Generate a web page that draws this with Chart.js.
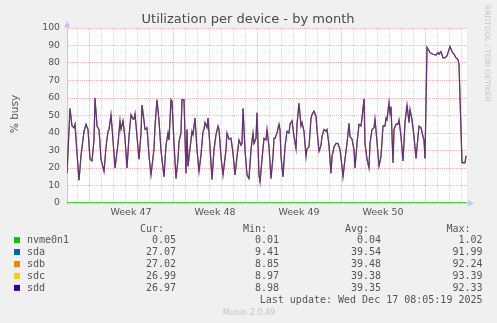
<!DOCTYPE html>
<html><head><meta charset="utf-8">
<script src="https://cdn.jsdelivr.net/npm/chart.js@4"></script>
<style>html,body{margin:0;padding:0;background:#f0f0f0;overflow:hidden}canvas{display:block}</style>
</head><body>
<canvas id="c" width="497" height="323"></canvas>
<script>
// time axis: hours since start of the month window (2-hour samples)
const hours = [0,6,10,14,16,20,24,28,34,38,42,46,50,54,56,60,64,68,74,78,82,84,88,92,96,102,106,108,112,116,120,124,128,132,134,136,140,144,148,150,154,156,160,164,168,174,176,180,184,188,194,198,202,204,208,210,
214,218,222,224,228,230,234,236,238,240,242,246,250,252,256,260,264,268,272,274,276,280,282,286,290,294,298,302,304,308,312,318,320,324,328,332,336,340,344,348,350,352,356,360,364,368,372,374,378,380,384,386,390,394,398,400,404,408,412,414,
416,420,424,426,428,432,436,440,444,446,450,454,458,460,464,468,470,474,478,480,484,488,490,494,498,500,504,508,510,514,518,520,524,528,530,534,538,542,546,550,552,556,560,564,566,570,574,576,580,584,588,590,594,596,600,604,606,610,614,616,620,
624,628,632,636,638,640,644,646,648,652,654,658,662,664,668,672,676,680,684,686,690,694,698,702,704,708,712,714,716,720,722,726,732,738,742,744,748,752,756,760,766,770,774,778,782,784,788,790,796,798];
// % busy of the sd* disks (the four traces overlap in the picture)
const diskBusy = [17,54,44,43,45,28.5,13,27,41,45,42,25,24,36,60,44,42,25,18,32,41,42,50.5,36,20,34,47,42,47,37,20,38,50.5,48,48,51,38,25,40,56,47,42,43,27,16,31,44,59,47,30,15,33,40,36,59,58,
34,14,25,35,40,59,59,38,17,42,21,31,41,39,48.5,30.5,18,27.5,41,42,46,43,48.5,32,13.5,30.5,39,44,42,26.5,16,30.5,40,36.5,37,28.5,16,26.5,36,33,34,54,30.5,16,14,30.5,40,34,37,51.5,16,12,25,37,36,42,32,14,26.5,37,
37,40,45,42,26.5,15,32,41,40,45,47,38,31,45,57,44,46,41,26.5,31,32,48.5,50.5,52.5,49.5,42,29.5,33,38,42,41,42,33,17,26.5,32,34,34,30.5,21,15,25,34,45.5,38,36.5,30.5,20,34,45,44,48.5,59.5,34,25,20,34,42,43,48,35,
21,26.6,44,44,48.5,47.5,57.5,51.5,55,23,42,45,45,47.5,38,24,46,56,46,53.5,47.5,38,25.5,38,44,43,38,36,25.5,89,88,86,85,84.5,86,85,86.5,83,83,84,89.5,86.5,85,83,82,79,42,23,23,27];
const nvmeHours = [0,120,240,360,480,600,720,800];
const nvmeBusy = [0.04,0.03,0.05,0.04,0.03,0.04,0.05,0.05];

const weekLabels = ['Week 47','Week 48','Week 49','Week 50'];
const weekCenterHours = [128,296,464,632];

const seriesNames = ['nvme0n1','sda','sdb','sdc','sdd'];
const curValues = ['0.05','27.07','27.02','26.99','26.97'];
const minValues = ['0.01','9.41','8.85','8.97','8.98'];
const avgValues = ['0.04','39.54','39.48','39.38','39.35'];
const maxValues = ['1.02','91.99','92.24','93.39','92.33'];
const seriesColors = ['#00cc00','#0066b3','#ff8000','#ffcc00','#330099'];

const MAJOR = '#efb6b6', MINOR = '#d6d6d6', AXIS = '#c4c4f4';

const pts = (xs, ys) => xs.map((x, i) => ({x, y: ys[i]}));

const decor = {
  id: 'decor',
  beforeDraw(chart) {
    const {ctx, chartArea: a} = chart;
    ctx.save();
    ctx.fillStyle = '#ffffff';
    ctx.fillRect(a.left, a.top, a.right - a.left, a.bottom - a.top);
    ctx.restore();
  },
  afterDraw(chart) {
    const {ctx, chartArea: a} = chart;
    ctx.save();
    ctx.fillStyle = AXIS;
    ctx.beginPath();
    ctx.moveTo(a.left - 3, a.top - 0.5); ctx.lineTo(a.left + 3.5, a.top - 0.5); ctx.lineTo(a.left + 0.25, a.top - 7); ctx.closePath(); ctx.fill();
    ctx.beginPath();
    ctx.moveTo(a.right + 1, a.bottom - 3); ctx.lineTo(a.right + 1, a.bottom + 3.5); ctx.lineTo(a.right + 7, a.bottom + 0.25); ctx.closePath(); ctx.fill();
    ctx.fillStyle = '#4a4a4a';
    ctx.font = '13px "DejaVu Sans"';
    ctx.textAlign = 'center'; ctx.textBaseline = 'alphabetic';
    ctx.fillText('Utilization per device - by month', 248, 23);
    ctx.save();
    ctx.translate(15, 114); ctx.rotate(-Math.PI / 2);
    ctx.font = '10.5px "DejaVu Sans"'; ctx.fillStyle = '#555';
    ctx.textBaseline = 'middle';
    ctx.fillText('% busy', 0, 0);
    ctx.restore();
    ctx.save();
    ctx.translate(485, 5); ctx.rotate(Math.PI / 2);
    ctx.font = '7.5px "DejaVu Sans"'; ctx.fillStyle = '#c6c6c6';
    ctx.textAlign = 'left'; ctx.textBaseline = 'alphabetic';
    ctx.fillText('RRDTOOL / TOBI OETIKER', 0, 0);
    ctx.restore();
    ctx.font = '10px "DejaVu Sans Mono"';
    ctx.fillStyle = '#555';
    const cols = [176, 279, 381, 482.5];
    const heads = ['Cur:', 'Min:', 'Avg:', 'Max:'];
    ctx.textAlign = 'right';
    heads.forEach((h, i) => ctx.fillText(h, cols[i] - 12, 231.5));
    const tables = [curValues, minValues, avgValues, maxValues];
    seriesNames.forEach((n, r) => {
      const base = 243.4 + r * 11.95;
      ctx.fillStyle = seriesColors[r];
      ctx.fillRect(14, base - 6.3, 6, 6);
      ctx.fillStyle = '#555';
      ctx.textAlign = 'left';
      ctx.fillText(n, 27, base);
      ctx.textAlign = 'right';
      tables.forEach((t, c) => ctx.fillText(t[r], cols[c], base));
    });
    ctx.textAlign = 'right';
    ctx.fillText('Last update: Wed Dec 17 08:05:19 2025', 482.5, 303.2);
    ctx.font = '8px "DejaVu Sans"'; ctx.fillStyle = '#c4c4c4';
    ctx.textAlign = 'center';
    ctx.fillText('Munin 2.0.49', 249, 315);
    ctx.restore();
  }
};

Chart.defaults.font.family = '"DejaVu Sans"';

new Chart(document.getElementById('c'), {
  type: 'line',
  data: {
    datasets: [
      {label: 'nvme0n1', data: pts(nvmeHours, nvmeBusy), borderColor: seriesColors[0], borderWidth: 1.2, order: 0},
      {label: 'sdd', data: pts(hours, diskBusy), borderColor: 'rgba(51,0,153,0.72)', borderWidth: 1.3, order: 1},
      {label: 'sdc', data: pts(hours, diskBusy), borderColor: 'rgba(255,204,0,0.6)', borderWidth: 1, order: 2},
      {label: 'sdb', data: pts(hours, diskBusy), borderColor: 'rgba(255,128,0,0.55)', borderWidth: 1.1, order: 3},
      {label: 'sda', data: pts(hours, diskBusy), borderColor: 'rgba(0,102,179,0.6)', borderWidth: 1, order: 4}
    ]
  },
  options: {
    responsive: false,
    animation: false,
    events: [],
    parsing: false,
    elements: {point: {radius: 0}, line: {tension: 0, fill: false}},
    layout: {padding: {top: 28, right: 30, left: 0, bottom: 0}},
    plugins: {legend: {display: false}, tooltip: {enabled: false}, title: {display: false}},
    scales: {
      x: {
        type: 'linear', min: 0, max: 800,
        afterBuildTicks(scale) {
          const t = [];
          for (let v = 8; v < 800; v += 12) t.push({value: v});
          scale.ticks = t;
        },
        afterFit(scale) { scale.height = 120; },
        grid: {
          drawTicks: false,
          lineWidth: 1,
          color(ctx) {
            const v = ctx.tick ? ctx.tick.value : -1;
            if ((v - 20) % 24 !== 0) return 'rgba(0,0,0,0)';
            return (v - 44) % 168 === 0 ? MAJOR : MINOR;
          }
        },
        border: {display: false, dash: [1, 1]},
        ticks: {
          autoSkip: false, maxRotation: 0, padding: 4,
          color: '#555', font: {size: 9.5},
          callback(value) {
            const i = weekCenterHours.indexOf(value);
            return i >= 0 ? weekLabels[i] : '';
          }
        }
      },
      y: {
        min: 0, max: 100,
        afterFit(scale) { scale.width = 67; },
        grid: {
          drawTicks: false,
          lineWidth: 1,
          color(ctx) {
            const v = ctx.tick ? ctx.tick.value : 1;
            return v % 10 === 0 ? MAJOR : MINOR;
          }
        },
        border: {display: true, color: AXIS, width: 1, dash: [1, 1]},
        ticks: {
          stepSize: 5, padding: 7, color: '#555', font: {size: 9.3},
          callback(v) { return v % 10 === 0 ? String(v) : ''; }
        }
      }
    }
  },
  plugins: [decor]
});
</script>
</body></html>
